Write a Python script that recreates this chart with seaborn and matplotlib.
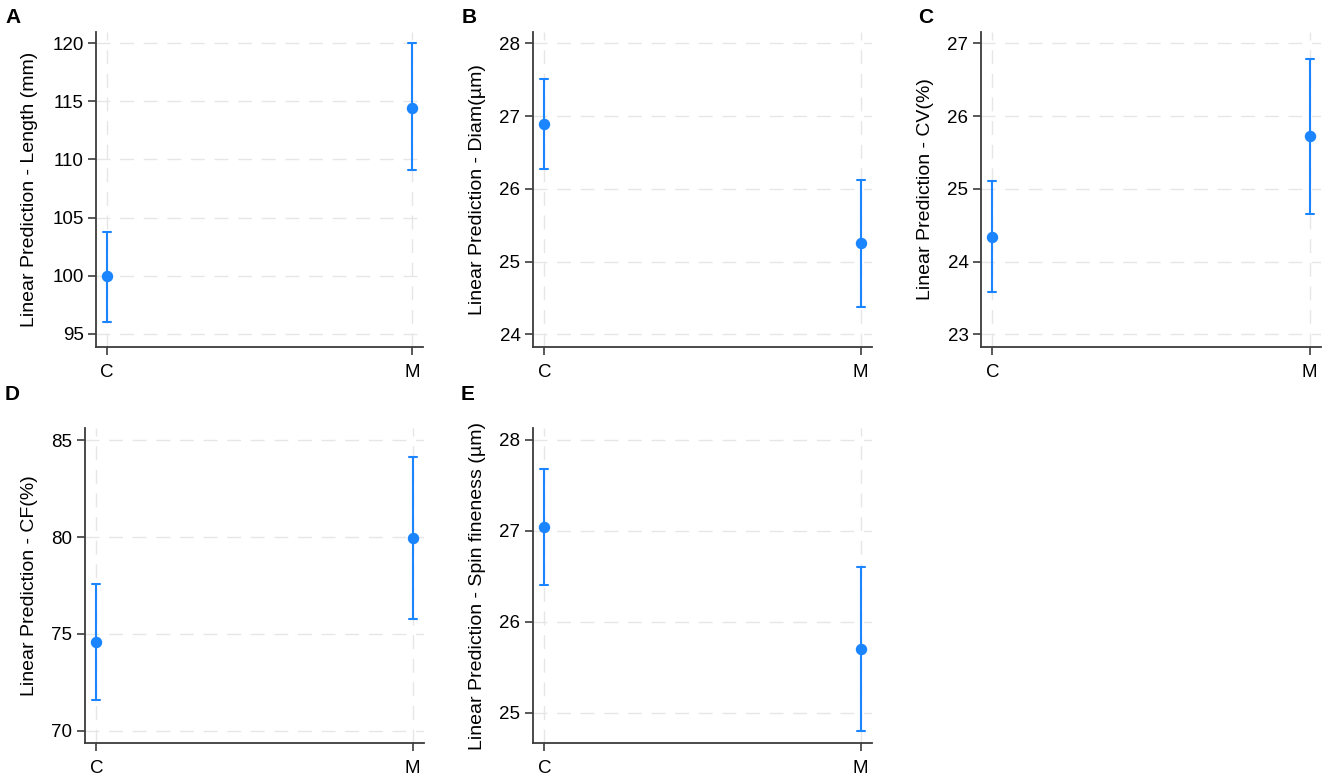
import matplotlib
matplotlib.use("Agg")
import matplotlib.pyplot as plt
import pandas as pd
import seaborn as sns

# ---- values ----
groups = ["C", "M"]

length_mean = [100.0, 114.45]
length_lo = [96.05, 109.05]
length_hi = [103.8, 120.0]

diam_mean = [26.89, 25.25]
diam_lo = [26.27, 24.38]
diam_hi = [27.51, 26.12]

cv_mean = [24.34, 25.72]
cv_lo = [23.58, 24.65]
cv_hi = [25.10, 26.79]

cf_mean = [74.57, 79.96]
cf_lo = [71.60, 75.76]
cf_hi = [77.56, 84.14]

spin_mean = [27.04, 25.70]
spin_lo = [26.40, 24.80]
spin_hi = [27.68, 26.60]

length_ticks = [95, 100, 105, 110, 115, 120]
diam_ticks = [24, 25, 26, 27, 28]
cv_ticks = [23, 24, 25, 26, 27]
cf_ticks = [70, 75, 80, 85]
spin_ticks = [25, 26, 27, 28]

BLUE = "#1a85ff"
GRID = "#e6e6e6"
SPINE = "#3c3c3c"
W, H = 1325, 777


def long_frame(mean, lo, hi):
    rows = []
    for g, m, a, b in zip(groups, mean, lo, hi):
        for v in (a, m, b):
            rows.append({"group": g, "value": v})
    return pd.DataFrame(rows)


def px_axes(fig, left, right, top, bottom):
    return fig.add_axes([left / W, (H - bottom) / H, (right - left) / W, (bottom - top) / H])


def draw_panel(ax, mean, lo, hi, ticks, ylim, ylabel):
    df = long_frame(mean, lo, hi)
    # median of (lo, mean, hi) is the point estimate, min/max give the interval
    sns.pointplot(
        data=df, x="group", y="value", order=groups,
        estimator="median", errorbar=lambda v: (v.min(), v.max()),
        color=BLUE, linestyle="none", markersize=6.2, capsize=0.025,
        err_kws={"linewidth": 1.5}, ax=ax,
    )
    ax.set_xlim(-0.036, 1.036)
    ax.set_ylim(*ylim)
    ax.set_yticks(ticks)
    ax.set_yticklabels([str(t) for t in ticks])
    ax.set_xlabel("")
    ax.set_ylabel(ylabel, fontsize=14, labelpad=10)
    ax.grid(True, color=GRID, linestyle=(0, (10, 7)), linewidth=1.0)
    ax.set_axisbelow(True)
    for side in ("top", "right"):
        ax.spines[side].set_visible(False)
    for side in ("left", "bottom"):
        ax.spines[side].set_color(SPINE)
        ax.spines[side].set_linewidth(1.3)
    ax.tick_params(axis="y", length=6, width=1.2, color=SPINE, labelsize=13.5, pad=3)
    ax.tick_params(axis="x", length=6, width=1.2, color=SPINE, labelsize=13.5, pad=6)


sns.set_theme(style="ticks")
plt.rcParams["font.family"] = ["Liberation Sans", "DejaVu Sans"]
plt.rcParams["text.color"] = "black"
plt.rcParams["axes.labelcolor"] = "black"
plt.rcParams["xtick.color"] = "black"
plt.rcParams["ytick.color"] = "black"

fig = plt.figure(figsize=(W / 100, H / 100), dpi=100)
fig.patch.set_facecolor("white")

panels = [
    ("A", (96, 423, 32, 347), length_mean, length_lo, length_hi, length_ticks,
     (93.88, 120.95), "Linear Prediction - Length (mm)", (5, 8)),
    ("B", (533, 872, 32, 347), diam_mean, diam_lo, diam_hi, diam_ticks,
     (23.825, 28.155), "Linear Prediction - Diam(µm)", (462, 8)),
    ("C", (981, 1321, 32, 347), cv_mean, cv_lo, cv_hi, cv_ticks,
     (22.825, 27.155), "Linear Prediction - CV(%)", (918, 8)),
    ("D", (85, 424, 428, 743), cf_mean, cf_lo, cf_hi, cf_ticks,
     (69.38, 85.62), "Linear Prediction - CF(%)", (5, 385)),
    ("E", (533, 872, 428, 743), spin_mean, spin_lo, spin_hi, spin_ticks,
     (24.667, 28.13), "Linear Prediction - Spin fineness (µm)", (461, 385)),
]

for letter, box, m, lo, hi, ticks, ylim, label, (lx, ly) in panels:
    ax = px_axes(fig, *box)
    draw_panel(ax, m, lo, hi, ticks, ylim, label)
    fig.text(lx / W, 1 - ly / H, letter, ha="left", va="top",
             fontsize=15, fontweight="bold", color="black")

fig.savefig("out.png", dpi=100, facecolor="white")
